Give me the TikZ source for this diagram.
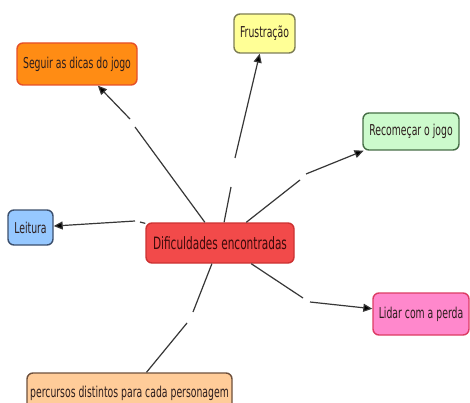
\documentclass[tikz,border=0pt]{standalone}
\usepackage{fontspec}
\newfontfamily\mapfont{DejaVu Sans}[FakeStretch=0.62]
\usetikzlibrary{arrows.meta}

\definecolor{linkgray}{RGB}{55,55,55}
\definecolor{txtdark}{RGB}{45,30,30}

\tikzset{
  concept/.style={rounded corners=6pt, line width=1.4pt, inner sep=0pt,
    font=\mapfont\fontsize{15}{17}\selectfont, text=txtdark, align=center},
  mainconcept/.style={concept, font=\mapfont\fontsize{17}{19}\selectfont, text={rgb,255:red,60;green,10;blue,10}},
  link/.style={draw=linkgray, line width=1.2pt},
  linkarrow/.style={link, -{Triangle[length=9pt,width=8pt,fill=black]}}
}

\begin{document}
\begin{tikzpicture}[x=1pt, y=-1pt]
  \useasboundingbox (0,0) rectangle (470,403);
  \clip (0,0) rectangle (470,403);
  \fill[white] (0,0) rectangle (470,403);

  % concepts
  \node[mainconcept, fill={rgb,255:red,242;green,74;blue,74}, draw={rgb,255:red,205;green,50;blue,50},
        minimum width=148pt, minimum height=40pt] (dif) at (220,243) {Dificuldades encontradas};
  \node[concept, fill={rgb,255:red,255;green,140;blue,20}, draw={rgb,255:red,230;green,80;blue,40},
        minimum width=120pt, minimum height=42pt] (seg) at (77,64) {Seguir as dicas do jogo};
  \node[concept, fill={rgb,255:red,255;green,255;blue,150}, draw={rgb,255:red,125;green,125;blue,85},
        minimum width=61pt, minimum height=39pt] (fru) at (264.5,33.5) {Frustração};
  \node[concept, fill={rgb,255:red,204;green,250;blue,204}, draw={rgb,255:red,70;green,110;blue,70},
        minimum width=96pt, minimum height=37pt] (rec) at (411,131.5) {Recomeçar o jogo};
  \node[concept, fill={rgb,255:red,150;green,200;blue,255}, draw={rgb,255:red,60;green,80;blue,110},
        minimum width=45pt, minimum height=35pt] (lei) at (30.5,227.5) {Leitura};
  \node[concept, fill={rgb,255:red,255;green,136;blue,204}, draw={rgb,255:red,220;green,60;blue,100},
        minimum width=96pt, minimum height=42pt] (lid) at (421,314) {Lidar com a perda};
  \node[concept, fill={rgb,255:red,255;green,204;blue,153}, draw={rgb,255:red,110;green,80;blue,60},
        minimum width=205pt, minimum height=40pt] (per) at (129.5,393) {percursos distintos para cada personagem};

  % gap ends of each connector
  \coordinate (segA) at (135,127); \coordinate (segB) at (130,119);
  \coordinate (fruA) at (231,187); \coordinate (fruB) at (235,158);
  \coordinate (recA) at (300,180); \coordinate (recB) at (306,174);
  \coordinate (leiA) at (140,222); \coordinate (leiB) at (135,221);
  \coordinate (lidA) at (303,298); \coordinate (lidB) at (310,302);
  \coordinate (perA) at (193,312); \coordinate (perB) at (187,323);

  % connectors
  \draw[link] (dif) -- (segA);  \draw[linkarrow] (segB) -- (seg);
  \draw[link] (dif) -- (fruA);  \draw[linkarrow] (fruB) -- (fru);
  \draw[link] (dif) -- (recA);  \draw[linkarrow] (recB) -- (rec);
  \draw[link] (dif) -- (leiA);  \draw[linkarrow] (leiB) -- (lei);
  \draw[link] (dif) -- (lidA);  \draw[linkarrow] (lidB) -- (lid);
  \draw[link] (dif) -- (perA);  \draw[link] (perB) -- (per);
\end{tikzpicture}
\end{document}
